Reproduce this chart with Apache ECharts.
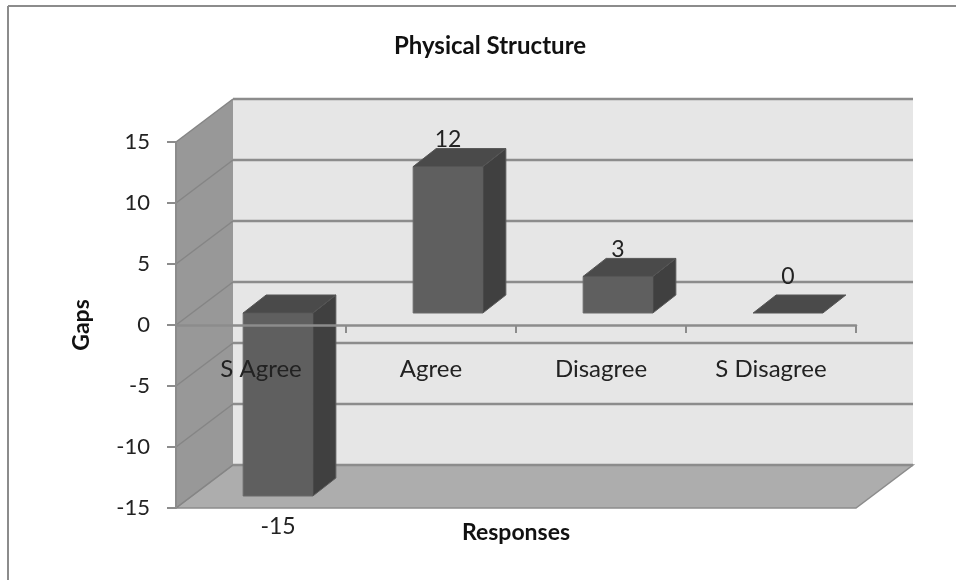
<!DOCTYPE html>
<html>
<head>
<meta charset="utf-8">
<style>html,body{margin:0;padding:0;background:#fff}#c{width:956px;height:580px}</style>
<script src="https://cdn.jsdelivr.net/npm/echarts@6/dist/echarts.min.js"></script>
</head>
<body>
<div id="c"></div>
<script>
var categories = ['S Agree', 'Agree', 'Disagree', 'S Disagree'];
var gaps = [-15, 12, 3, 0];
var yTicks = [-15, -10, -5, 0, 5, 10, 15];
var chartTitle = 'Physical Structure';
var xName = 'Responses';
var yName = 'Gaps';

var FONT = 'Lato, "Open Sans", sans-serif';
var LINE = '#8c8c8c';
var WALL = [57, -43];      // depth of the chart box
var BAR_SHIFT = [17, -12]; // bars stand mid-depth
var BAR_DEPTH = [23, -18];
var BAR_RATIO = 0.41;

function poly(pts, fill, z2, stroke, lw) {
  return {type: 'polygon', z2: z2, shape: {points: pts},
    style: {fill: fill, stroke: stroke || null, lineWidth: lw || 0}};
}
function seg(x1, y1, x2, y2, lw, color, z2) {
  return {type: 'line', z2: z2 || 1, shape: {x1: x1, y1: y1, x2: x2, y2: y2},
    style: {stroke: color || LINE, lineWidth: lw, fill: null}};
}

function renderPanels(params, api) {
  var g = params.coordSys;
  var L = g.x, R = g.x + g.width, T = g.y, B = g.y + g.height;
  var dx = WALL[0], dy = WALL[1];
  return {type: 'group', silent: true, children: [
    poly([[L + dx, T + dy], [R + dx, T + dy], [R + dx, B + dy], [L + dx, B + dy]], '#e6e6e6', 0),
    poly([[L, T], [L + dx, T + dy], [L + dx, B + dy], [L, B]], '#989898', 0),
    poly([[L, B], [L + dx, B + dy], [R + dx, B + dy], [R, B]], '#adadad', 1, LINE, 1.5)
  ]};
}

function renderGrid(params, api) {
  var g = params.coordSys;
  var L = g.x, R = g.x + g.width;
  var y = api.coord([0, api.value(0)])[1];
  var dx = WALL[0], dy = WALL[1];
  return {type: 'group', silent: true, children: [
    seg(L, y, L + dx, y + dy, 1.5, '#858585'),
    seg(L + dx, y + dy, R + dx, y + dy, 2.5, LINE)
  ]};
}

function renderBar(params, api) {
  var idx = api.value(0), val = api.value(1);
  var base = api.coord([idx, 0]);
  var end = api.coord([idx, val]);
  var w = api.size([1, 0])[0] * BAR_RATIO;
  var xl = base[0] - w / 2 + BAR_SHIFT[0], xr = xl + w;
  var y0 = base[1] + BAR_SHIFT[1], y1 = end[1] + BAR_SHIFT[1];
  var top = Math.min(y0, y1), bot = Math.max(y0, y1);
  var ddx = BAR_DEPTH[0], ddy = BAR_DEPTH[1];
  var labelY = val < 0 ? bot + 31 : (val === 0 ? top - 36 : top - 27);
  var children = [];
  if (bot > top) {
    children.push(poly([[xl, top], [xr, top], [xr, bot], [xl, bot]], '#5f5f5f', 3, '#6b6b6b', 1));
    children.push(poly([[xr, top], [xr + ddx, top + ddy], [xr + ddx, bot + ddy], [xr, bot]], '#404040', 3, '#5a5a5a', 1));
  }
  children.push(poly([[xl, top], [xr, top], [xr + ddx, top + ddy], [xl + ddx, top + ddy]], '#4a4a4a', 4, '#555555', 1));
  children.push({type: 'text', z2: 6, style: {
    text: String(val), x: (xl + xr) / 2, y: labelY, align: 'center', verticalAlign: 'middle',
    font: '23px ' + FONT, fill: '#222222'}});
  return {type: 'group', silent: true, children: children};
}

var chart = echarts.init(document.getElementById('c'), null, {renderer: 'canvas'});
chart.setOption({
  animation: false,
  backgroundColor: '#ffffff',
  title: {
    text: chartTitle, left: 485, top: 29, textAlign: 'center',
    textStyle: {fontFamily: FONT, fontSize: 24, fontWeight: 'bold', color: '#111111'}
  },
  grid: {left: 176, right: 100, top: 142, bottom: 72, outerBoundsMode: 'none', containLabel: false},
  xAxis: {
    type: 'category', data: categories, z: 5,
    name: xName, nameLocation: 'middle', nameGap: 13,
    nameTextStyle: {fontFamily: FONT, fontSize: 23, fontWeight: 'bold', color: '#111111'},
    axisLine: {onZero: true, lineStyle: {color: LINE, width: 2.5}},
    axisTick: {show: true, alignWithLabel: false, length: 8, lineStyle: {color: LINE, width: 2}},
    axisLabel: {margin: -151, fontFamily: FONT, fontSize: 24, color: '#222222'},
    splitLine: {show: false}
  },
  yAxis: {
    type: 'value', min: -15, max: 15, interval: 5, z: 5,
    name: yName, nameLocation: 'middle', nameGap: 83, nameRotate: 90,
    nameTextStyle: {fontFamily: FONT, fontSize: 23, fontWeight: 'bold', color: '#111111'},
    axisLine: {show: true, lineStyle: {color: LINE, width: 2}},
    axisTick: {show: true, length: 9, lineStyle: {color: LINE, width: 2}},
    axisLabel: {margin: 26, fontFamily: FONT, fontSize: 22, color: '#222222', padding: [7, 0, 0, 0]},
    splitLine: {show: false}
  },
  graphic: [
    {type: 'line', shape: {x1: 8, y1: 6, x2: 956, y2: 6}, style: {stroke: LINE, lineWidth: 2}, silent: true},
    {type: 'line', shape: {x1: 8, y1: 6, x2: 8, y2: 580}, style: {stroke: LINE, lineWidth: 2}, silent: true}
  ],
  series: [
    {type: 'custom', z: 1, clip: false, renderItem: renderPanels, data: [[yTicks[0]]], encode: {y: 0}, silent: true, tooltip: {show: false}},
    {type: 'custom', z: 2, clip: false, renderItem: renderGrid, data: yTicks.map(function (v) { return [v]; }), encode: {y: 0}, silent: true},
    {type: 'custom', z: 3, clip: false, renderItem: renderBar,
     data: gaps.map(function (v, i) { return [i, v]; }), encode: {x: 0, y: 1}, silent: true}
  ]
});
</script>
</body>
</html>
